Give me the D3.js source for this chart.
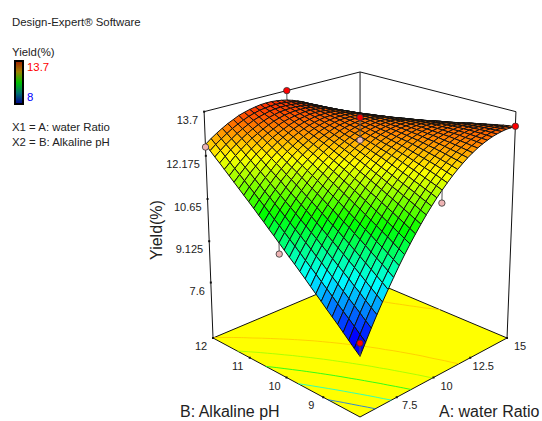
<!DOCTYPE html>
<html><head><meta charset="utf-8"><style>html,body{margin:0;background:#fff;overflow:hidden}svg{display:block;font-family:"Liberation Sans",Arial,sans-serif}</style>
<script src="https://cdn.jsdelivr.net/npm/d3@7"></script></head><body><svg id="c" width="542" height="421"></svg>
<script>
const ticksA=[7.5,10,12.5,15], ticksB=[9,10,11,12], ticksZ=[7.6,9.125,10.65,12.175,13.7];
const levels=[8.6,9.6,10.7,11.7,12.6];
// Yield: one row per pH step (8 to 12), one column per water-ratio step (5 to 15)
const vals=[
[7.56,7.94,8.32,8.68,9.02,9.35,9.67,9.98,10.27,10.55,10.81,11.06,11.30,11.52,11.73,11.92,12.10,12.27,12.42,12.56,12.69,12.80,12.90,12.98,13.05,13.11,13.15,13.18,13.20,13.20,13.19],
[7.73,8.11,8.48,8.83,9.17,9.50,9.81,10.11,10.39,10.66,10.92,11.16,11.39,11.61,11.81,12.00,12.17,12.33,12.48,12.61,12.73,12.83,12.92,13.00,13.06,13.11,13.15,13.17,13.18,13.18,13.16],
[7.91,8.29,8.65,8.99,9.32,9.64,9.95,10.24,10.51,10.78,11.03,11.26,11.49,11.69,11.89,12.07,12.24,12.39,12.53,12.65,12.77,12.86,12.95,13.02,13.07,13.12,13.15,13.16,13.16,13.15,13.13],
[8.09,8.46,8.81,9.15,9.47,9.78,10.08,10.37,10.64,10.89,11.13,11.36,11.58,11.78,11.97,12.14,12.30,12.45,12.58,12.70,12.80,12.89,12.97,13.03,13.08,13.12,13.14,13.15,13.14,13.13,13.09],
[8.27,8.62,8.97,9.30,9.62,9.92,10.21,10.49,10.75,11.00,11.24,11.46,11.67,11.86,12.04,12.21,12.36,12.50,12.63,12.74,12.84,12.92,12.99,13.05,13.09,13.12,13.13,13.13,13.12,13.09,13.05],
[8.44,8.79,9.13,9.46,9.77,10.06,10.35,10.62,10.87,11.11,11.34,11.56,11.76,11.94,12.12,12.28,12.42,12.55,12.67,12.78,12.87,12.94,13.01,13.06,13.09,13.11,13.12,13.11,13.09,13.06,13.01],
[8.61,8.96,9.29,9.61,9.91,10.20,10.48,10.74,10.99,11.22,11.44,11.65,11.84,12.02,12.19,12.34,12.48,12.60,12.72,12.81,12.90,12.97,13.02,13.06,13.09,13.11,13.11,13.09,13.07,13.03,12.97],
[8.79,9.13,9.45,9.76,10.06,10.34,10.61,10.86,11.10,11.33,11.55,11.75,11.93,12.10,12.26,12.41,12.54,12.65,12.76,12.85,12.92,12.99,13.03,13.07,13.09,13.10,13.09,13.07,13.03,12.99,12.92],
[8.96,9.29,9.61,9.91,10.20,10.47,10.74,10.98,11.22,11.44,11.64,11.84,12.02,12.18,12.33,12.47,12.59,12.70,12.80,12.88,12.95,13.00,13.04,13.07,13.08,13.08,13.07,13.04,13.00,12.94,12.88],
[9.13,9.46,9.77,10.06,10.34,10.61,10.86,11.10,11.33,11.54,11.74,11.93,12.10,12.25,12.40,12.53,12.64,12.75,12.84,12.91,12.97,13.02,13.05,13.07,13.08,13.07,13.05,13.01,12.96,12.90,12.82],
[9.31,9.62,9.92,10.21,10.48,10.74,10.99,11.22,11.44,11.65,11.84,12.02,12.18,12.33,12.47,12.59,12.70,12.79,12.87,12.94,12.99,13.03,13.06,13.07,13.07,13.05,13.02,12.98,12.92,12.85,12.77],
[9.48,9.78,10.08,10.36,10.62,10.88,11.12,11.34,11.55,11.75,11.93,12.10,12.26,12.40,12.53,12.64,12.74,12.83,12.90,12.96,13.01,13.04,13.06,13.07,13.06,13.03,13.00,12.95,12.88,12.80,12.71],
[9.65,9.95,10.23,10.50,10.76,11.01,11.24,11.46,11.66,11.85,12.03,12.19,12.34,12.47,12.59,12.70,12.79,12.87,12.94,12.99,13.03,13.05,13.06,13.06,13.04,13.01,12.97,12.91,12.84,12.75,12.65],
[9.81,10.11,10.39,10.65,10.90,11.14,11.36,11.57,11.77,11.95,12.12,12.27,12.41,12.54,12.65,12.75,12.84,12.91,12.97,13.01,13.04,13.06,13.06,13.05,13.02,12.99,12.93,12.87,12.79,12.69,12.59],
[9.98,10.27,10.54,10.79,11.04,11.27,11.48,11.68,11.87,12.05,12.21,12.35,12.49,12.60,12.71,12.80,12.88,12.94,12.99,13.03,13.05,13.06,13.06,13.04,13.00,12.96,12.90,12.82,12.74,12.64,12.52],
[10.15,10.43,10.69,10.94,11.17,11.39,11.60,11.80,11.98,12.14,12.30,12.43,12.56,12.67,12.77,12.85,12.92,12.98,13.02,13.05,13.06,13.06,13.05,13.02,12.98,12.93,12.86,12.78,12.68,12.57,12.45],
[10.32,10.59,10.84,11.08,11.31,11.52,11.72,11.91,12.08,12.24,12.38,12.51,12.63,12.73,12.82,12.90,12.96,13.01,13.04,13.06,13.07,13.06,13.04,13.01,12.96,12.90,12.82,12.73,12.63,12.51,12.38],
[10.48,10.74,10.99,11.22,11.44,11.65,11.84,12.02,12.18,12.33,12.47,12.59,12.70,12.79,12.87,12.94,13.00,13.04,13.06,13.08,13.07,13.06,13.03,12.99,12.93,12.86,12.78,12.68,12.57,12.44,12.30],
[10.65,10.90,11.14,11.36,11.57,11.77,11.96,12.13,12.28,12.42,12.55,12.67,12.77,12.85,12.93,12.99,13.03,13.06,13.08,13.09,13.08,13.05,13.02,12.97,12.90,12.82,12.73,12.63,12.51,12.37,12.22],
[10.81,11.06,11.29,11.50,11.71,11.89,12.07,12.23,12.38,12.51,12.63,12.74,12.83,12.91,12.98,13.03,13.06,13.09,13.10,13.09,13.08,13.05,13.00,12.94,12.87,12.78,12.68,12.57,12.44,12.30,12.14],
[10.98,11.21,11.43,11.64,11.84,12.02,12.18,12.34,12.48,12.60,12.71,12.81,12.90,12.97,13.02,13.07,13.10,13.11,13.11,13.10,13.08,13.04,12.98,12.92,12.83,12.74,12.63,12.51,12.37,12.22,12.06],
[11.14,11.37,11.58,11.78,11.96,12.14,12.30,12.44,12.57,12.69,12.79,12.88,12.96,13.02,13.07,13.10,13.13,13.13,13.13,13.11,13.07,13.02,12.96,12.89,12.80,12.69,12.58,12.45,12.30,12.14,11.97],
[11.30,11.52,11.72,11.92,12.09,12.26,12.41,12.54,12.67,12.78,12.87,12.95,13.02,13.07,13.11,13.14,13.15,13.15,13.14,13.11,13.07,13.01,12.94,12.85,12.76,12.65,12.52,12.38,12.23,12.06,11.88],
[11.46,11.67,11.87,12.05,12.22,12.38,12.52,12.65,12.76,12.86,12.95,13.02,13.08,13.12,13.16,13.17,13.18,13.17,13.15,13.11,13.06,12.99,12.91,12.82,12.71,12.59,12.46,12.31,12.15,11.98,11.79],
[11.62,11.82,12.01,12.19,12.35,12.49,12.63,12.75,12.85,12.94,13.02,13.09,13.14,13.17,13.20,13.21,13.20,13.18,13.15,13.11,13.05,12.97,12.89,12.78,12.67,12.54,12.40,12.24,12.07,11.89,11.69],
[11.78,11.97,12.15,12.32,12.47,12.61,12.74,12.85,12.94,13.03,13.10,13.15,13.19,13.22,13.24,13.24,13.22,13.20,13.16,13.10,13.03,12.95,12.86,12.75,12.62,12.49,12.34,12.17,11.99,11.80,11.59],
[11.94,12.12,12.30,12.45,12.60,12.73,12.84,12.94,13.03,13.11,13.17,13.22,13.25,13.27,13.27,13.27,13.24,13.21,13.16,13.10,13.02,12.93,12.82,12.71,12.57,12.43,12.27,12.09,11.91,11.71,11.49],
[12.10,12.27,12.44,12.58,12.72,12.84,12.95,13.04,13.12,13.19,13.24,13.28,13.30,13.31,13.31,13.29,13.26,13.22,13.16,13.09,13.00,12.90,12.79,12.66,12.52,12.37,12.20,12.02,11.82,11.61,11.39],
[12.25,12.42,12.57,12.71,12.84,12.95,13.05,13.14,13.21,13.26,13.31,13.34,13.35,13.35,13.34,13.32,13.28,13.22,13.16,13.08,12.98,12.87,12.75,12.62,12.47,12.30,12.13,11.93,11.73,11.51,11.28],
[12.41,12.57,12.71,12.84,12.96,13.06,13.15,13.23,13.29,13.34,13.37,13.39,13.40,13.39,13.37,13.34,13.29,13.23,13.15,13.06,12.96,12.84,12.71,12.57,12.41,12.24,12.05,11.85,11.64,11.41,11.17],
[12.57,12.72,12.85,12.97,13.08,13.17,13.26,13.32,13.37,13.41,13.44,13.45,13.45,13.43,13.40,13.36,13.30,13.23,13.15,13.05,12.94,12.81,12.67,12.52,12.35,12.17,11.97,11.76,11.54,11.31,11.06]
];
const ptsAbove=[[5,8,8],[10,12,13.7],[10,10,13.5],[15,8,13.2]], ptsBehind=[[15,10,12.4]], ptsBelow=[[5,12,12.48],[5,10,9.77],[10,8,11.49],[10,10,12.72]];
const N=vals.length;
const sx=d3.scaleLinear([5,15],[0,1]), sy=d3.scaleLinear([8,12],[0,1]), sz=d3.scaleLinear([5.5,13.7],[0,1]);
function P(A,B,Z){const x=sx(A),y=sy(B),z=sz(Z),w=1+.137*(x+y)-.065*z;
 return [(360+216.5*x-117.8*y-23.4*z)/w,(417-32.7*(x+y)-264.6*z)/w];}
const col=d3.scaleLinear().domain([8,9.425,10.85,12.275,13.7]).range(["#0000ff","#00ffff","#00ff00","#ffff00","#ff0000"]).clamp(true);
const svg=d3.select("#c");
const gA=d3.scaleLinear([0,N-1],[5,15]), gB=d3.scaleLinear([0,N-1],[8,12]);
const L=d3.line();
const frame=svg.append("g").attr("fill","none").attr("stroke","#111").attr("stroke-width",1);
[[[5,12,5.5],[5,12,13.7]],[[15,8,5.5],[15,8,13.7]],[[15,12,5.5],[15,12,13.7]],[[5,12,13.7],[15,12,13.7],[15,8,13.7]]].forEach(s=>frame.append("path").attr("d",L(s.map(p=>P(...p)))));
svg.append("path").attr("d",L([[5,8],[15,8],[15,12],[5,12]].map(p=>P(p[0],p[1],5.5)))+"Z").attr("fill","#ffff00").attr("stroke","#111");
const cont=d3.contours().size([N,N]).thresholds(levels)(vals.flat());
const floorPt=p=>P(gA(p[0]-.5),gB(p[1]-.5),5.5);
const lineC=d3.line().defined(p=>p[0]>=.5&&p[0]<=N-.5&&p[1]>=.5&&p[1]<=N-.5).x(p=>floorPt(p)[0]).y(p=>floorPt(p)[1]);
cont.forEach(c=>c.coordinates.forEach(poly=>poly.forEach(ring=>svg.append("path").attr("d",lineC(ring)).attr("fill","none").attr("stroke",col(c.value)).attr("stroke-width",1).attr("opacity",.8))));
function marker(p,fill,stem){const m=P(...p);svg.append("path").attr("d",L([m,P(p[0],p[1],stem)])).attr("stroke","#555").attr("fill","none");
 svg.append("circle").attr("cx",m[0]).attr("cy",m[1]).attr("r",3.2).attr("fill",fill).attr("stroke","#333").attr("stroke-width",.8);}
const zAt=(a,b)=>vals[Math.round(gB.invert(b))][Math.round(gA.invert(a))];
ptsBehind.forEach(p=>marker(p,"#ff0000",zAt(p[0],p[1])));
const cells=[];for(let j=0;j<N-1;j++)for(let i=0;i<N-1;i++)cells.push([i,j]);
cells.sort((u,v)=>(v[0]+v[1])-(u[0]+u[1]));
svg.append("g").attr("stroke","#111").attr("stroke-width",1).attr("stroke-linejoin","round").selectAll("path").data(cells).join("path")
 .attr("d",([i,j])=>L([[i,j],[i+1,j],[i+1,j+1],[i,j+1]].map(([u,v])=>P(gA(u),gB(v),vals[v][u])))+"Z")
 .attr("fill",([i,j])=>col((vals[j][i]+vals[j+1][i]+vals[j][i+1]+vals[j+1][i+1])/4));
ptsBelow.forEach(p=>marker(p,"#eeb4b4",zAt(p[0],p[1])));
ptsAbove.forEach(p=>marker(p,"#ff0000",zAt(p[0],p[1])));
const edgeX=d3.scaleLinear([0,1],[0,147]), edgeY=d3.scaleLinear([0,1],[0,79]);
const fl=(A,B)=>{const a=sx(A),b=sy(B);return[360+edgeX(a)-edgeX(b),417-edgeY(a)-edgeY(b)];};
const T=(x,y,s,size,anc,fill)=>svg.append("text").attr("x",x).attr("y",y).attr("font-size",size).attr("text-anchor",anc||"start").attr("fill",fill||"#222").text(s);
const tick=p=>svg.append("rect").attr("x",p[0]-1).attr("y",p[1]-1).attr("width",2).attr("height",2).attr("fill","#111");
ticksA.forEach(t=>{const p=fl(t,8);tick(p);T(p[0]+13,p[1]+12,t,11,"middle");});
ticksB.forEach(t=>{const p=fl(5,t);tick(p);T(p[0]-12,p[1]+12,t,11,"middle");});
ticksZ.forEach(t=>{const p=P(5,12,t);tick(p);T(p[0]-6,p[1]+12,t,11,"end");});
T(180,417,"B: Alkaline pH",16);T(439,417,"A: water Ratio",16);
svg.append("text").attr("transform","translate(162,230) rotate(-90)").attr("text-anchor","middle").attr("font-size",16).attr("fill","#222").text("Yield(%)");
T(12,26,"Design-Expert® Software",11.4);T(12,56,"Yield(%)",11.4);T(27,71,"13.7",11.4,"start","#ff0000");T(27,101,"8",11.4,"start","#0000ff");
T(12,131,"X1 = A: water Ratio",11.4);T(12,146,"X2 = B: Alkaline pH",11.4);
const g=svg.append("defs").append("linearGradient").attr("id","lg").attr("x1",0).attr("x2",0).attr("y1",0).attr("y2",1);
[[0,"#a02000"],[.25,"#a08000"],[.5,"#00c000"],[.75,"#007070"],[1,"#000090"]].forEach(s=>g.append("stop").attr("offset",s[0]).attr("stop-color",s[1]));
svg.append("rect").attr("x",15).attr("y",61).attr("width",8).attr("height",43).attr("fill","url(#lg)").attr("stroke","#000").attr("stroke-width",2);
</script></body></html>
